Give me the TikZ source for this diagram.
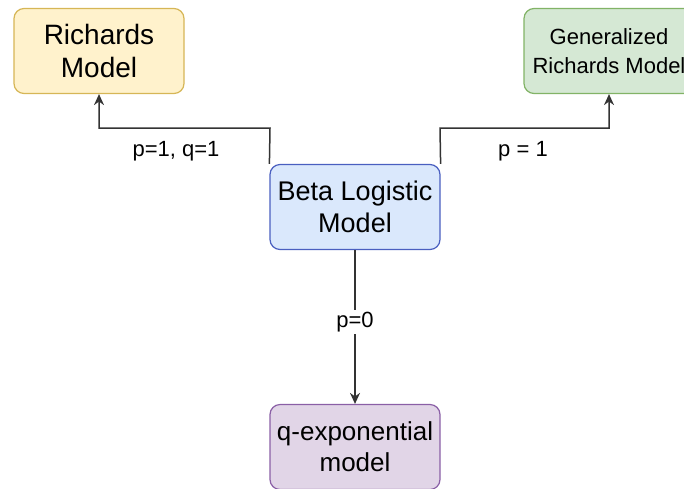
\documentclass[tikz,border=0pt]{standalone}
\usepackage{fontspec}
\setmainfont{Liberation Sans}
\usetikzlibrary{arrows.meta}

\definecolor{richfill}{HTML}{FFF2CC}
\definecolor{richline}{HTML}{D6B656}
\definecolor{genfill}{HTML}{D5E8D4}
\definecolor{genline}{HTML}{82B366}
\definecolor{betafill}{HTML}{DAE8FC}
\definecolor{betaline}{HTML}{4A5FC0}
\definecolor{qfill}{HTML}{E1D5E7}
\definecolor{qline}{HTML}{8A5FA6}
\definecolor{linkgray}{HTML}{333333}

\begin{document}
\begin{tikzpicture}[>={Stealth[length=11pt,width=10pt]}, x=1pt, y=-1pt,
  box/.style={draw, rounded corners=10pt, minimum width=170pt, minimum height=85pt,
    align=center, line width=1.2pt, font=\fontsize{27}{32}\selectfont},
  lbl/.style={font=\fontsize{22}{26}\selectfont, inner sep=2pt},
  link/.style={draw=linkgray, line width=1.5pt, ->}]
\clip (0,0) rectangle (684,488);

\node[box, fill=richfill, draw=richline, font=\fontsize{28}{33}\selectfont] (rich) at (99,51) {Richards\\Model};
\node[box, fill=genfill, draw=genline, font=\fontsize{22}{29}\selectfont] (grm) at (609,51) {Generalized\\Richards Model};
\node[box, fill=betafill, draw=betaline] (beta) at (355,207) {Beta Logistic\\Model};
\node[box, fill=qfill, draw=qline, font=\fontsize{26}{31}\selectfont] (qexp) at (355,447) {q-exponential\\model};

% branches up from the beta box
\coordinate (kl) at (270,128);
\coordinate (kr) at (440,128);
\draw[link] (beta.north west) -- (kl) -| (rich.south);
\draw[link] (beta.north east) -- (kr) -| (grm.south);
\node[lbl] (l1) at (176,151) {p=1, q=1};
\node[lbl] (l2) at (523,151) {p = 1};

% down to q-exponential
\draw[link] (beta.south) -- node[lbl, fill=white, pos=0.47] (l3) {p=0} (qexp.north);
\end{tikzpicture}
\end{document}
